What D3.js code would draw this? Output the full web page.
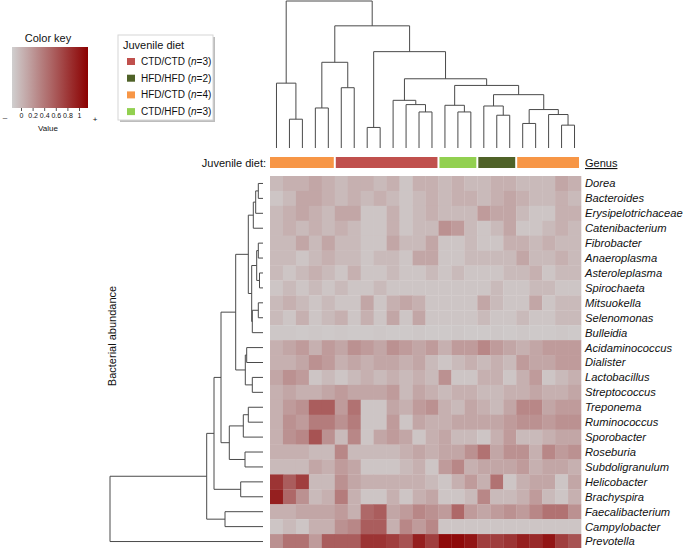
<!DOCTYPE html>
<html><head><meta charset="utf-8">
<script src="https://cdn.jsdelivr.net/npm/d3@7"></script>
<style>
body{margin:0;background:#fff;}
text{font-family:"Liberation Sans",Arial,Helvetica,sans-serif;fill:#111;}
</style>
</head><body>
<svg id="chart" width="685" height="548"></svg>
<script>
// ---------------- DATA ----------------
const genera = ["Dorea","Bacteroides","Erysipelotrichaceae","Catenibacterium","Fibrobacter",
  "Anaeroplasma","Asteroleplasma","Spirochaeta","Mitsuokella","Selenomonas","Bulleidia",
  "Acidaminococcus","Dialister","Lactobacillus","Streptococcus","Treponema","Ruminococcus",
  "Sporobacter","Roseburia","Subdoligranulum","Helicobacter","Brachyspira","Faecalibacterium",
  "Campylobacter","Prevotella"];

const samples = d3.range(1, 25).map(i => "S" + i);

const dietGroups = ["CTD/CTD", "HFD/HFD", "HFD/CTD", "CTD/HFD"];
const dietN = [3, 2, 4, 3];
const dietColors = ["#c0504d", "#4f6228", "#f79646", "#92d050"];

const sampleDiet = [
  "HFD/CTD","HFD/CTD","HFD/CTD","HFD/CTD","HFD/CTD",
  "CTD/CTD","CTD/CTD","CTD/CTD","CTD/CTD","CTD/CTD","CTD/CTD","CTD/CTD","CTD/CTD",
  "CTD/HFD","CTD/HFD","CTD/HFD",
  "HFD/HFD","HFD/HFD","HFD/HFD",
  "HFD/CTD","HFD/CTD","HFD/CTD","HFD/CTD","HFD/CTD"];

// scaled abundance, one row per genus, one value per sample (0 = grey, 1 = dark red)
const abundance = [
  [0.10,0.15,0.15,0.20,0.15,0.10,0.15,0.15,0.10,0.15,0.05,0.15,0.15,0.10,0.15,0.10,0.10,0.15,0.15,0.10,0.10,0.10,0.20,0.15],
  [0.05,0.10,0.20,0.20,0.15,0.10,0.15,0.10,0.15,0.10,0.05,0.10,0.15,0.10,0.15,0.15,0.10,0.15,0.20,0.15,0.10,0.10,0.15,0.10],
  [0.10,0.15,0.20,0.15,0.10,0.20,0.20,0.05,0.05,0.15,0.05,0.10,0.15,0.10,0.10,0.10,0.25,0.20,0.20,0.10,0.05,0.05,0.15,0.15],
  [0.10,0.15,0.10,0.15,0.10,0.15,0.10,0.05,0.05,0.15,0.05,0.10,0.10,0.30,0.25,0.10,0.05,0.10,0.20,0.05,0.05,0.10,0.15,0.10],
  [0.10,0.10,0.20,0.10,0.20,0.10,0.10,0.05,0.05,0.20,0.10,0.10,0.20,0.05,0.05,0.10,0.05,0.05,0.15,0.15,0.10,0.15,0.10,0.10],
  [0.10,0.10,0.05,0.10,0.15,0.10,0.10,0.05,0.10,0.10,0.05,0.20,0.20,0.05,0.05,0.10,0.10,0.10,0.10,0.20,0.10,0.10,0.15,0.10],
  [0.10,0.05,0.10,0.15,0.10,0.05,0.15,0.05,0.05,0.10,0.05,0.05,0.10,0.05,0.10,0.05,0.05,0.05,0.10,0.10,0.15,0.05,0.10,0.10],
  [0.05,0.10,0.05,0.10,0.05,0.10,0.05,0.05,0.10,0.05,0.05,0.05,0.05,0.05,0.05,0.05,0.05,0.10,0.05,0.05,0.10,0.10,0.05,0.05],
  [0.10,0.15,0.10,0.05,0.10,0.05,0.05,0.20,0.05,0.15,0.20,0.15,0.05,0.05,0.05,0.05,0.20,0.10,0.05,0.05,0.20,0.05,0.10,0.10],
  [0.10,0.05,0.15,0.05,0.10,0.15,0.05,0.15,0.05,0.20,0.05,0.20,0.05,0.05,0.05,0.05,0.10,0.05,0.05,0.10,0.05,0.05,0.10,0.10],
  [0.04,0.04,0.03,0.04,0.03,0.04,0.03,0.03,0.04,0.03,0.03,0.04,0.03,0.03,0.04,0.03,0.03,0.04,0.03,0.04,0.03,0.03,0.04,0.03],
  [0.15,0.20,0.25,0.15,0.25,0.20,0.30,0.25,0.20,0.30,0.25,0.20,0.25,0.15,0.25,0.25,0.35,0.25,0.20,0.15,0.20,0.25,0.25,0.25],
  [0.15,0.15,0.20,0.30,0.25,0.15,0.20,0.15,0.20,0.20,0.15,0.20,0.10,0.05,0.10,0.15,0.10,0.15,0.10,0.25,0.20,0.20,0.25,0.25],
  [0.20,0.30,0.25,0.05,0.10,0.05,0.10,0.15,0.10,0.15,0.10,0.15,0.10,0.30,0.05,0.05,0.15,0.15,0.05,0.15,0.25,0.05,0.10,0.15],
  [0.15,0.20,0.15,0.15,0.20,0.25,0.20,0.20,0.20,0.25,0.10,0.20,0.15,0.10,0.15,0.15,0.10,0.10,0.15,0.15,0.20,0.15,0.15,0.20],
  [0.15,0.25,0.30,0.55,0.55,0.25,0.45,0.05,0.05,0.20,0.15,0.25,0.30,0.15,0.10,0.20,0.15,0.10,0.20,0.35,0.35,0.20,0.25,0.25],
  [0.15,0.30,0.25,0.40,0.40,0.30,0.40,0.05,0.05,0.25,0.05,0.20,0.15,0.15,0.20,0.20,0.20,0.20,0.25,0.30,0.30,0.25,0.30,0.30],
  [0.15,0.30,0.35,0.60,0.30,0.10,0.35,0.05,0.20,0.25,0.20,0.05,0.15,0.20,0.10,0.10,0.05,0.15,0.25,0.10,0.10,0.15,0.20,0.20],
  [0.15,0.15,0.15,0.10,0.10,0.35,0.10,0.10,0.10,0.10,0.15,0.20,0.15,0.20,0.20,0.30,0.45,0.20,0.30,0.30,0.15,0.35,0.25,0.30],
  [0.10,0.10,0.10,0.20,0.15,0.25,0.20,0.05,0.05,0.05,0.10,0.15,0.05,0.25,0.35,0.15,0.20,0.20,0.20,0.25,0.15,0.20,0.20,0.15],
  [0.75,0.55,0.70,0.10,0.10,0.30,0.20,0.15,0.15,0.15,0.15,0.15,0.10,0.05,0.15,0.25,0.15,0.45,0.05,0.15,0.20,0.20,0.05,0.20],
  [0.85,0.50,0.30,0.10,0.15,0.40,0.15,0.05,0.05,0.15,0.05,0.15,0.20,0.05,0.05,0.10,0.35,0.10,0.10,0.15,0.25,0.10,0.05,0.15],
  [0.15,0.15,0.20,0.20,0.20,0.25,0.15,0.50,0.55,0.20,0.25,0.35,0.30,0.25,0.50,0.25,0.20,0.25,0.30,0.25,0.35,0.45,0.45,0.30],
  [0.05,0.10,0.05,0.15,0.15,0.30,0.35,0.55,0.55,0.15,0.35,0.25,0.35,0.05,0.05,0.05,0.05,0.05,0.05,0.05,0.05,0.05,0.05,0.05],
  [0.30,0.45,0.45,0.25,0.55,0.55,0.55,0.75,0.75,0.70,0.60,0.85,0.70,0.95,0.95,0.90,0.70,0.70,0.75,0.85,0.80,0.90,0.70,0.60]
];

// dendrograms: [height, left, right]; a bare number is a leaf index
const colTree = [148,
  [65.3, 0, [29, 1, 2]],
  [123,
    [86.3, [40.3, 3, 4], [60.7, 5, 6]],
    [97, [20.7, 7, 8],
      [69.7,
        [48, 9, [43.7, 10, [36.3, 11, 12]]],
        [63,
          [43, 13, [36.3, 14, 15]],
          [53.7,
            [42.3, 16, [33, 17, 18]],
            [38.7, [24.7, 19, 20], [33.7, 21, [23, 22, 23]]]]]]]]];

const rowTree = [153,
  [56.3,
    [49,
      [42,
        [27.3,
          [14.7,
            [9.7, [7.3, [4.7, 0, 1], 2], 3],
            [11.3, [6.3, [4.7, 4, 5], [3.5, 6, 7]], [10.7, [4.7, 8, 9], 10]]],
          [17.7, [16.3, 11, 12], [10.7, 13, 14]]],
        [33.7, [19.7, [14.7, 15, 16], 17], [18, 18, 19]]],
      [22.3, 20, 21]],
    [38, 22, 23]],
  24];

const keyTicks = [0, 0.2, 0.4, 0.6, 0.8, 1];

// ---------------- CHART ----------------
const svg = d3.select("#chart");
const FONT = '"Liberation Sans",Arial,Helvetica,sans-serif';

const x = d3.scaleBand().domain(d3.range(samples.length)).range([270, 581]);
const y = d3.scaleBand().domain(d3.range(genera.length)).range([176, 549]);
const color = d3.scaleLinear().domain([0, 1]).range(["#d0cfcf", "#8b0000"]).interpolate(d3.interpolateRgb).clamp(true);

// heatmap
const cells = [];
abundance.forEach((row, r) => row.forEach((v, c) => cells.push({r, c, v})));
svg.append("g").selectAll("rect").data(cells).join("rect")
  .attr("x", d => x(d.c)).attr("y", d => y(d.r))
  .attr("width", x.bandwidth() + 0.3).attr("height", y.bandwidth() + 0.3)
  .attr("fill", d => color(d.v));

// genus labels
svg.append("g").selectAll("text").data(genera).join("text")
  .attr("x", 585).attr("y", (d, i) => y(i) + y.bandwidth() / 2)
  .attr("dy", "0.35em").attr("font-size", 11.2).attr("font-style", "italic")
  .text(d => d);

svg.append("text").attr("x", 585).attr("y", 167).attr("font-size", 11)
  .attr("text-decoration", "underline").text("Genus");

// diet bar
const segs = [];
sampleDiet.forEach((d, i) => {
  if (segs.length && segs[segs.length - 1].diet === d) segs[segs.length - 1].end = i;
  else segs.push({diet: d, start: i, end: i});
});
const dietColor = d3.scaleOrdinal().domain(dietGroups).range(dietColors);
svg.append("g").selectAll("rect").data(segs).join("rect")
  .attr("x", d => x(d.start) + (d.start === 0 ? 0 : 1))
  .attr("width", d => x(d.end) + x.bandwidth() - x(d.start) - (d.start === 0 ? 1 : 2) - (d.end === samples.length - 1 ? 1 : 0))
  .attr("y", 157).attr("height", 11)
  .attr("fill", d => dietColor(d.diet));
svg.append("text").attr("x", 266).attr("y", 167).attr("text-anchor", "end")
  .attr("font-size", 11).text("Juvenile diet:");

// dendrogram helper
function build(node, pos) {
  if (typeof node === "number") return {h: 0, p: pos(node), leaf: true};
  const a = build(node[1], pos), b = build(node[2], pos);
  return {h: node[0], p: (a.p + b.p) / 2, kids: [a, b]};
}
function collect(n, out) { if (n.kids) { out.push(n); n.kids.forEach(k => collect(k, out)); } return out; }

// column dendrogram (top)
const colRoot = build(colTree, i => x(i) + x.bandwidth() / 2);
const colH = d3.scaleLinear().domain([0, colTree[0]]).range([148, 1]);
svg.append("g").selectAll("path").data(collect(colRoot, [])).join("path")
  .attr("d", n => {
    const [a, b] = n.kids;
    return `M${a.p},${colH(a.h)}V${colH(n.h)}H${b.p}V${colH(b.h)}`;
  })
  .attr("fill", "none").attr("stroke", "#4a4a4a").attr("stroke-width", 1);

// row dendrogram (left)
const rowRoot = build(rowTree, i => y(i) + y.bandwidth() / 2);
const rowH = d3.scaleLinear().domain([0, rowTree[0]]).range([263, 110]);
svg.append("g").selectAll("path").data(collect(rowRoot, [])).join("path")
  .attr("d", n => {
    const [a, b] = n.kids;
    return `M${rowH(a.h)},${a.p}H${rowH(n.h)}V${b.p}H${rowH(b.h)}`;
  })
  .attr("fill", "none").attr("stroke", "#4a4a4a").attr("stroke-width", 1);

svg.append("text").attr("transform", "translate(116,336) rotate(-90)")
  .attr("text-anchor", "middle").attr("font-size", 11).text("Bacterial abundance");

// color key
const defs = svg.append("defs");
const grad = defs.append("linearGradient").attr("id", "keygrad");
d3.range(0, 1.0001, 0.1).forEach(t => grad.append("stop").attr("offset", t).attr("stop-color", color(t)));
svg.append("text").attr("x", 48).attr("y", 42).attr("text-anchor", "middle")
  .attr("font-size", 11).text("Color key");
svg.append("rect").attr("x", 12).attr("y", 47).attr("width", 76).attr("height", 61)
  .attr("fill", "url(#keygrad)");
const keyScale = d3.scaleLinear().domain([0, 1]).range([21, 79]);
const keyAxis = svg.append("g").attr("transform", "translate(0,108)")
  .call(d3.axisBottom(keyScale).tickValues(keyTicks).tickSize(3).tickPadding(2).tickFormat(d3.format("~g")));
keyAxis.select(".domain").remove();
keyAxis.selectAll("text").attr("font-size", 7).attr("font-family", FONT).attr("fill", "#222");
keyAxis.selectAll("line").attr("stroke", "#555");
svg.append("text").attr("x", 5).attr("y", 120).attr("text-anchor", "middle").attr("font-size", 8).text("–");
svg.append("text").attr("x", 95).attr("y", 122).attr("text-anchor", "middle").attr("font-size", 8).text("+");
svg.append("text").attr("x", 48).attr("y", 131).attr("text-anchor", "middle").attr("font-size", 8).text("Value");

// diet legend
svg.append("rect").attr("x", 120).attr("y", 37).attr("width", 95).attr("height", 85).attr("fill", "#bdbdbd");
svg.append("rect").attr("x", 118).attr("y", 35).attr("width", 95).attr("height", 85)
  .attr("fill", "#fff").attr("stroke", "#d6d6d6");
svg.append("text").attr("x", 123).attr("y", 49).attr("font-size", 11).text("Juvenile diet");
const legOrder = ["CTD/CTD", "HFD/HFD", "HFD/CTD", "CTD/HFD"];
const leg = svg.append("g").selectAll("g").data(legOrder).join("g")
  .attr("transform", (d, i) => `translate(127,${61.5 + i * 16.7})`);
leg.append("rect").attr("x", 0).attr("y", -3.5).attr("width", 8).attr("height", 7)
  .attr("fill", d => dietColor(d));
leg.append("text").attr("x", 14).attr("dy", "0.35em").attr("font-size", 10)
  .each(function(d) {
    const t = d3.select(this);
    const n = dietN[dietGroups.indexOf(d)];
    t.append("tspan").text(d + " (");
    t.append("tspan").attr("font-style", "italic").text("n");
    t.append("tspan").text("=" + n + ")");
  });
</script>
</body></html>
